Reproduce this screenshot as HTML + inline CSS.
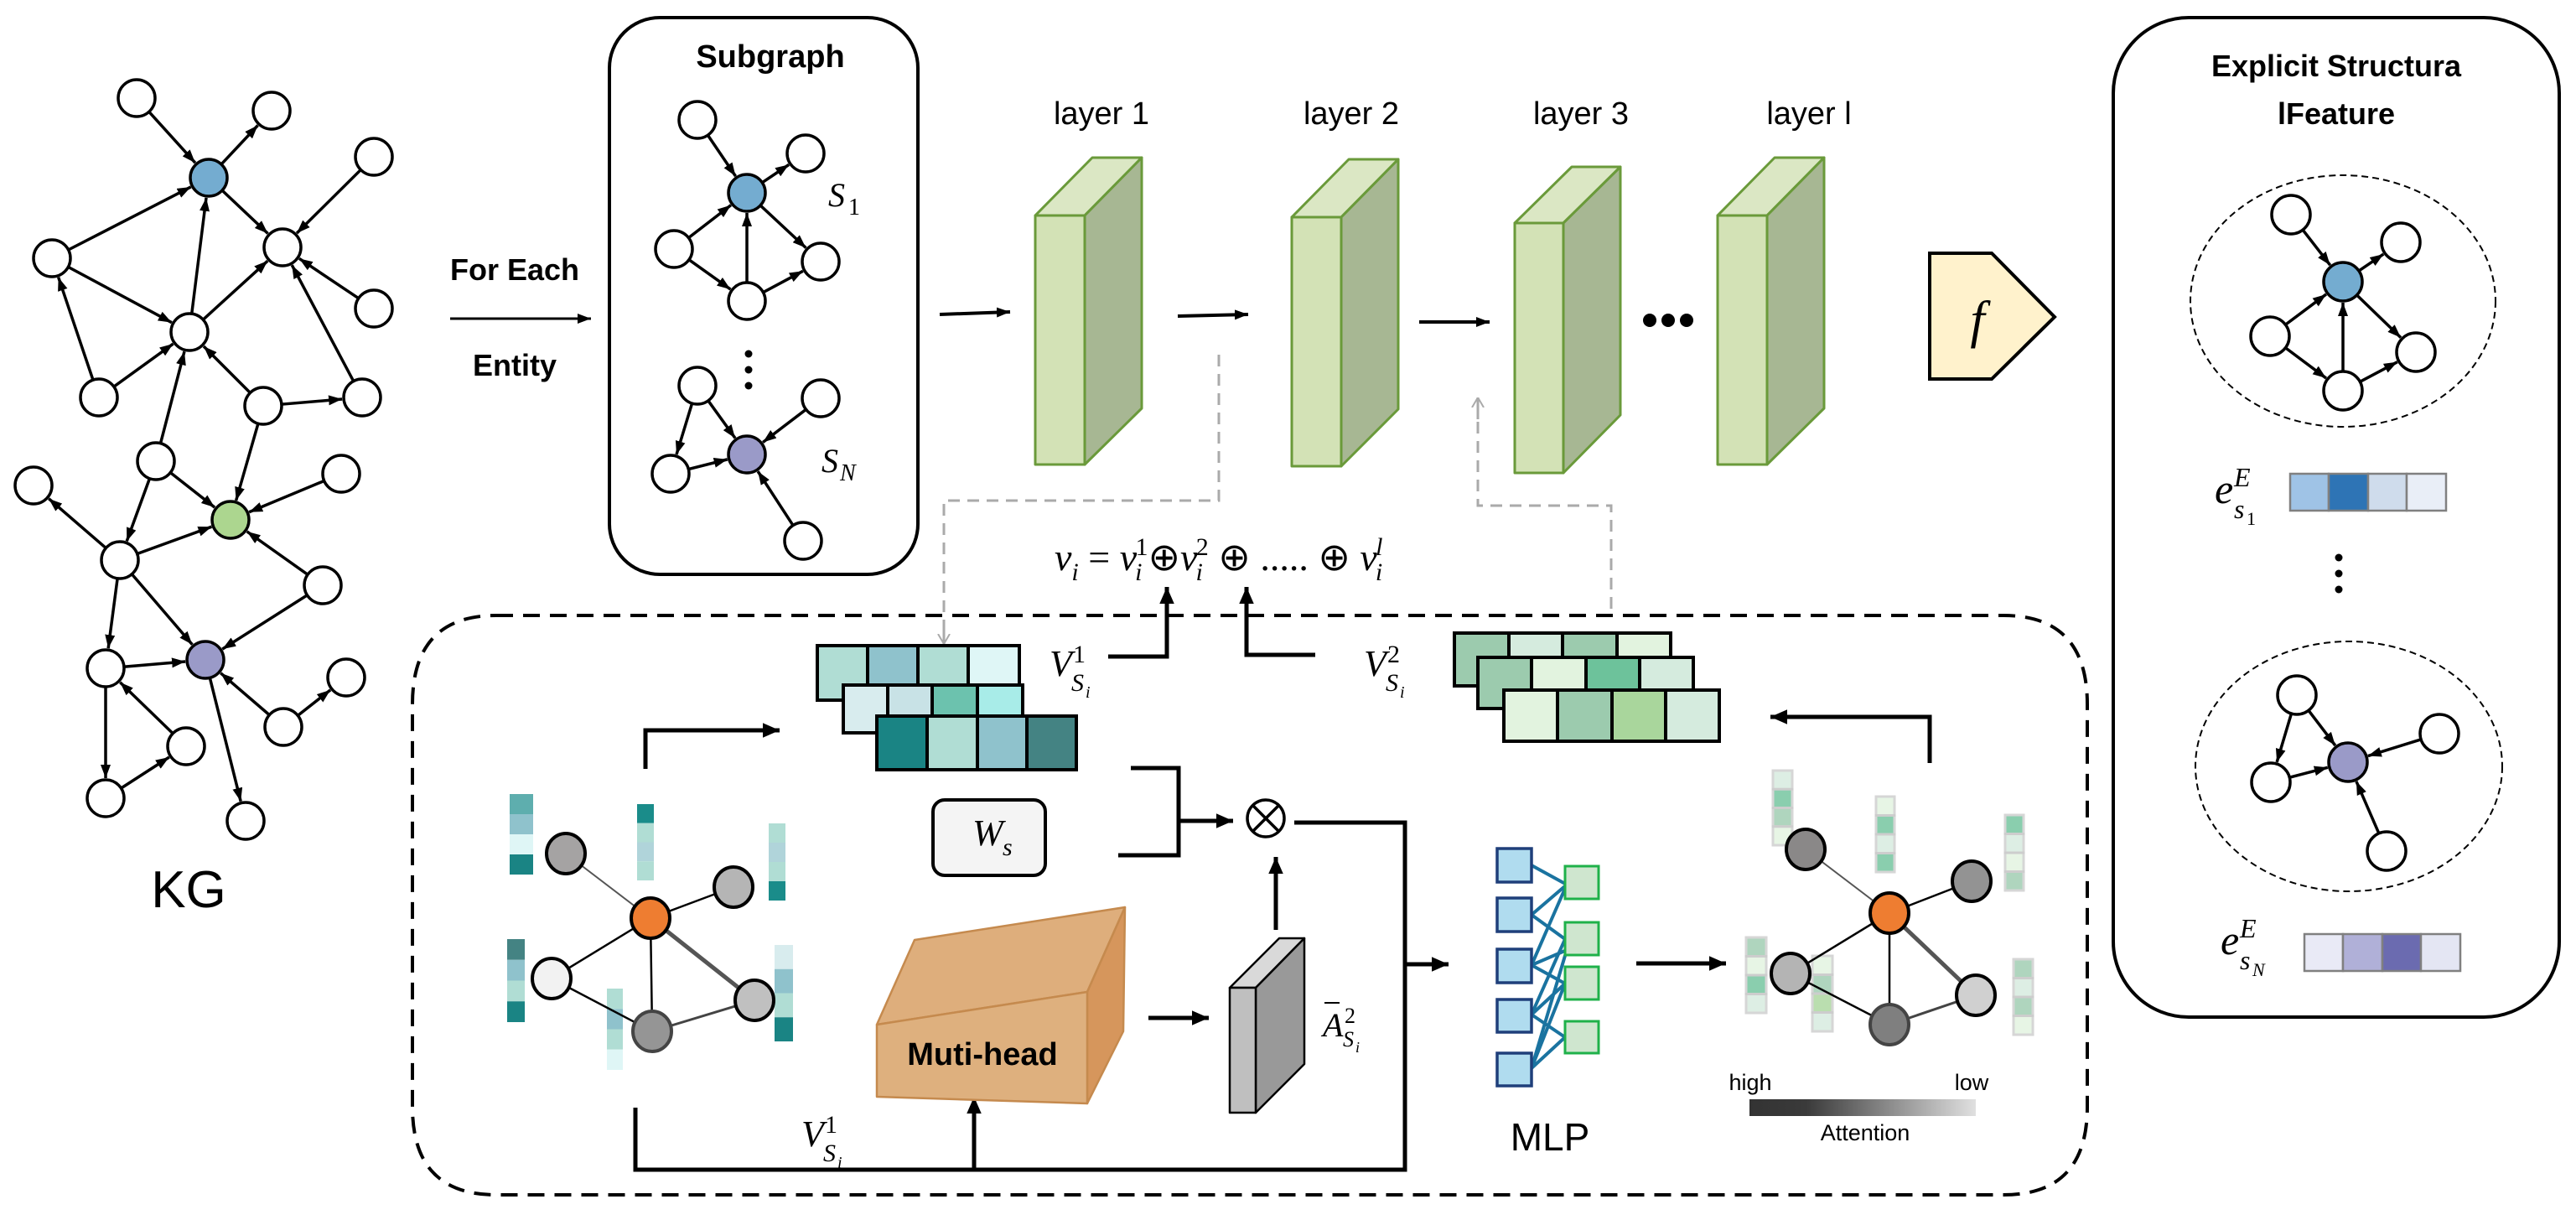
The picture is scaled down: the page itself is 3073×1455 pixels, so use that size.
<!DOCTYPE html>
<html><head><meta charset="utf-8"><style>
html,body{margin:0;padding:0;background:#fff;}
svg{display:block}
.b{font-family:"Liberation Sans",sans-serif;font-weight:bold;}
.r{font-family:"Liberation Sans",sans-serif;}
.m{font-family:"Liberation Serif",serif;font-style:italic;}
.mu{font-family:"Liberation Serif",serif;}
</style></head><body>
<svg id="s" width="3073" height="1455" viewBox="0 0 3073 1455" xmlns="http://www.w3.org/2000/svg">
<defs>
<marker id="ar" viewBox="0 0 16 12" refX="16" refY="6" markerWidth="16" markerHeight="12" markerUnits="userSpaceOnUse" orient="auto"><path d="M0,0 L16,6 L0,12 z" fill="#000"/></marker>
<marker id="arb" viewBox="0 0 16 14" refX="16" refY="7" markerWidth="20" markerHeight="18" markerUnits="userSpaceOnUse" orient="auto"><path d="M0,0 L16,7 L0,14 z" fill="#000"/></marker>
<marker id="arg" viewBox="0 0 12 14" refX="12" refY="7" markerWidth="12" markerHeight="16" markerUnits="userSpaceOnUse" orient="auto"><path d="M0,0 L12,7 L0,14" fill="none" stroke="#aaa" stroke-width="2"/></marker>
<linearGradient id="att" x1="0" x2="1"><stop offset="0" stop-color="#333"/><stop offset="0.25" stop-color="#3a3a3a"/><stop offset="1" stop-color="#e0e0e0"/></linearGradient>
</defs>
<g id="graphs"></g>

<text x="225" y="1082" class="r" font-size="62" text-anchor="middle">KG</text>

<text x="614" y="334" class="b" font-size="36" text-anchor="middle">For Each</text>
<line x1="537" y1="380" x2="705" y2="380" stroke="#000" stroke-width="3" marker-end="url(#ar)"/>
<text x="614" y="448" class="b" font-size="36" text-anchor="middle">Entity</text>

<rect x="727" y="21" width="368" height="664" rx="60" fill="none" stroke="#000" stroke-width="4"/>
<text x="919" y="80" class="b" font-size="38" text-anchor="middle">Subgraph</text>
<text x="988" y="246" class="m" font-size="40">S</text><text x="1012" y="256" class="mu" font-size="28">1</text>
<text x="980" y="563" class="m" font-size="40">S</text><text x="1002" y="573" class="m" font-size="28">N</text>
<circle cx="893" cy="422" r="4.5"/><circle cx="893" cy="441" r="4.5"/><circle cx="893" cy="460" r="4.5"/>

<g stroke="#6a9a3a" stroke-width="3" stroke-linejoin="round">
<polygon points="1235,257 1294,257 1362,188 1303,188" fill="#dbe7c4"/>
<polygon points="1294,257 1362,188 1362,487 1294,554" fill="#a7b793"/>
<rect x="1235" y="257" width="59" height="297" fill="#d3e2b6"/>
<polygon points="1541,259 1600,259 1668,190 1609,190" fill="#dbe7c4"/>
<polygon points="1600,259 1668,190 1668,488 1600,556" fill="#a7b793"/>
<rect x="1541" y="259" width="59" height="297" fill="#d3e2b6"/>
<polygon points="1807,266 1865,266 1933,199 1875,199" fill="#dbe7c4"/>
<polygon points="1865,266 1933,199 1933,495 1865,564" fill="#a7b793"/>
<rect x="1807" y="266" width="58" height="298" fill="#d3e2b6"/>
<polygon points="2049,257 2108,257 2176,188 2117,188" fill="#dbe7c4"/>
<polygon points="2108,257 2176,188 2176,487 2108,554" fill="#a7b793"/>
<rect x="2049" y="257" width="59" height="297" fill="#d3e2b6"/>
</g>
<g class="r" font-size="38" text-anchor="middle">
<text x="1314" y="148">layer 1</text>
<text x="1612" y="148">layer 2</text>
<text x="1886" y="148">layer 3</text>
<text x="2158" y="148">layer l</text>
</g>
<g stroke="#000" stroke-width="4">
<line x1="1121" y1="375" x2="1205" y2="372" marker-end="url(#ar)"/>
<line x1="1405" y1="377" x2="1489" y2="375" marker-end="url(#ar)"/>
<line x1="1693" y1="384" x2="1777" y2="384" marker-end="url(#ar)"/>
</g>
<circle cx="1968" cy="382" r="8"/><circle cx="1990" cy="382" r="8"/><circle cx="2012" cy="382" r="8"/>

<g fill="none" stroke="#aaa" stroke-width="3" stroke-dasharray="14 9">
<polyline points="1454,423 1454,597 1126,597 1126,760"/>
<polyline points="1763,480 1763,603 1922,603 1922,732"/>
</g>
<line x1="1126" y1="740" x2="1126" y2="768" stroke="#aaa" stroke-width="3" marker-end="url(#arg)"/>
<line x1="1763" y1="500" x2="1763" y2="474" stroke="#aaa" stroke-width="3" marker-end="url(#arg)"/>

<text x="1258" y="680" font-size="46"><tspan class="m">v</tspan><tspan class="m" font-size="30" dy="12">i</tspan><tspan class="mu" dy="-12"> = </tspan><tspan class="m">v</tspan><tspan class="m" font-size="30" dy="12" dx="-2">i</tspan><tspan class="mu" font-size="30" dy="-30" dx="-8">1</tspan><tspan class="mu" dy="18">⊕</tspan><tspan class="m">v</tspan><tspan class="m" font-size="30" dy="12" dx="-2">i</tspan><tspan class="mu" font-size="30" dy="-30" dx="-8">2</tspan><tspan class="mu" dy="18"> ⊕ ..... ⊕ </tspan><tspan class="m">v</tspan><tspan class="m" font-size="30" dy="12" dx="-2">i</tspan><tspan class="m" font-size="30" dy="-30" dx="-8">l</tspan></text>

<polygon points="2302,302 2376,302 2451,378 2376,452 2302,452" fill="#fff2cc" stroke="#000" stroke-width="4"/>
<text x="2359" y="402" class="m" font-size="62" text-anchor="middle">f</text>

<rect x="2521" y="21" width="532" height="1192" rx="90" fill="none" stroke="#000" stroke-width="4"/>
<text x="2787" y="91" class="b" font-size="36" text-anchor="middle">Explicit Structura</text>
<text x="2787" y="148" class="b" font-size="36" text-anchor="middle">lFeature</text>
<ellipse cx="2795" cy="359" rx="182" ry="150" fill="none" stroke="#000" stroke-width="2" stroke-dasharray="8 5"/>
<ellipse cx="2802" cy="914" rx="183" ry="149" fill="none" stroke="#000" stroke-width="2" stroke-dasharray="8 5"/>
<text x="2642" y="600" class="m" font-size="50">e</text><text x="2665" y="580" class="m" font-size="32">E</text><text x="2665" y="618" class="m" font-size="32">s</text><text x="2680" y="626" class="mu" font-size="22">1</text>
<g stroke="#808080" stroke-width="2.5">
<rect x="2732" y="565" width="46" height="44" fill="#9fc3e6"/><rect x="2778" y="565" width="47" height="44" fill="#2e74b5"/><rect x="2825" y="565" width="46" height="44" fill="#cfdcec"/><rect x="2871" y="565" width="47" height="44" fill="#e9eef7"/>
<rect x="2749" y="1114" width="46" height="44" fill="#e9eaf6"/><rect x="2795" y="1114" width="47" height="44" fill="#b0b0d8"/><rect x="2842" y="1114" width="46" height="44" fill="#6b6bb0"/><rect x="2888" y="1114" width="47" height="44" fill="#e4e6f3"/>
</g>
<circle cx="2790" cy="665" r="4.5"/><circle cx="2790" cy="684" r="4.5"/><circle cx="2790" cy="703" r="4.5"/>
<text x="2649" y="1138" class="m" font-size="50">e</text><text x="2672" y="1118" class="m" font-size="32">E</text><text x="2672" y="1156" class="m" font-size="32">s</text><text x="2687" y="1164" class="m" font-size="22">N</text>

<path d="M592,734 L2390,734 Q2490,734 2490,840 L2490,1320 Q2490,1425 2390,1425 L592,1425 Q492,1425 492,1320 L492,840 Q492,734 592,734 Z" fill="none" stroke="#000" stroke-width="4" stroke-dasharray="20 12"/>

<g stroke="#000" stroke-width="4">
<rect x="975" y="770" width="60" height="65" fill="#b0ddd4"/><rect x="1035" y="770" width="60" height="65" fill="#8fc2cc"/><rect x="1095" y="770" width="60" height="65" fill="#b0ddd4"/><rect x="1155" y="770" width="61" height="65" fill="#dff6f6"/>
<rect x="1006" y="817" width="53" height="57" fill="#d8ecee"/><rect x="1059" y="817" width="53" height="57" fill="#c8e2e6"/><rect x="1112" y="817" width="54" height="57" fill="#6cc2ae"/><rect x="1166" y="817" width="54" height="57" fill="#a8ece8"/>
<rect x="1046" y="854" width="60" height="64" fill="#1a8484"/><rect x="1106" y="854" width="60" height="64" fill="#b0ddd4"/><rect x="1166" y="854" width="59" height="64" fill="#8fc2cc"/><rect x="1225" y="854" width="59" height="64" fill="#448383"/>
<rect x="1735" y="755" width="65" height="63" fill="#9ccbae"/><rect x="1800" y="755" width="64" height="63" fill="#d5ebde"/><rect x="1864" y="755" width="65" height="63" fill="#9ccbae"/><rect x="1929" y="755" width="64" height="63" fill="#e2f3df"/>
<rect x="1763" y="784" width="64" height="61" fill="#9ccbae"/><rect x="1827" y="784" width="65" height="61" fill="#e2f3df"/><rect x="1892" y="784" width="64" height="61" fill="#6dc29b"/><rect x="1956" y="784" width="64" height="61" fill="#d5ebde"/>
<rect x="1794" y="823" width="64" height="61" fill="#e2f3df"/><rect x="1858" y="823" width="65" height="61" fill="#9ccbae"/><rect x="1923" y="823" width="64" height="61" fill="#a9d69c"/><rect x="1987" y="823" width="64" height="61" fill="#d5ebde"/>
</g>

<g>
<text x="1252" y="806" class="m" font-size="44">V</text><text x="1280" y="790" class="mu" font-size="30">1</text><text x="1278" y="824" class="m" font-size="30">S</text><text x="1295" y="832" class="m" font-size="20">i</text>
<text x="1627" y="806" class="m" font-size="44">V</text><text x="1655" y="790" class="mu" font-size="30">2</text><text x="1653" y="824" class="m" font-size="30">S</text><text x="1670" y="832" class="m" font-size="20">i</text>
<text x="956" y="1367" class="m" font-size="44">V</text><text x="984" y="1351" class="mu" font-size="30">1</text><text x="982" y="1385" class="m" font-size="30">S</text><text x="999" y="1393" class="m" font-size="20">i</text>
<line x1="1580" y1="1196" x2="1598" y2="1196" stroke="#000" stroke-width="2"/>
<text x="1578" y="1236" class="m" font-size="40">A</text><text x="1604" y="1220" class="mu" font-size="26">2</text><text x="1602" y="1248" class="m" font-size="26">S</text><text x="1617" y="1255" class="m" font-size="18">i</text>
</g>

<g fill="none" stroke="#000" stroke-width="5">
<polyline points="1322,783 1392,783 1392,700" marker-end="url(#arb)"/>
<polyline points="1569,781 1487,781 1487,700" marker-end="url(#arb)"/>
<polyline points="770,917 770,871 930,871" marker-end="url(#arb)"/>
<polyline points="2302,910 2302,855 2112,855" marker-end="url(#arb)"/>
<polyline points="1349,916 1406,916 1406,1020 1334,1020"/>
<line x1="1406" y1="979" x2="1471" y2="979" marker-end="url(#arb)"/>
<polyline points="1544,981 1676,981 1676,1395 758,1395 758,1321"/>
<line x1="1676" y1="1150" x2="1728" y2="1150" marker-end="url(#arb)"/>
<line x1="1162" y1="1395" x2="1162" y2="1308" marker-end="url(#arb)"/>
<line x1="1370" y1="1214" x2="1442" y2="1214" marker-end="url(#arb)"/>
<line x1="1522" y1="1109" x2="1522" y2="1022" marker-end="url(#arb)"/>
<line x1="1952" y1="1149" x2="2059" y2="1149" marker-end="url(#arb)"/>
</g>
<g stroke="#000" stroke-width="3.5" fill="#fff"><circle cx="1510" cy="976" r="22"/><line x1="1494" y1="960" x2="1526" y2="992"/><line x1="1526" y1="960" x2="1494" y2="992"/></g>
<rect x="1113" y="954" width="134" height="90" rx="14" fill="#f4f4f4" stroke="#000" stroke-width="4"/>
<text x="1160" y="1008" class="m" font-size="44">W</text><text x="1196" y="1020" class="m" font-size="30">s</text>

<g stroke="#c58a4e" stroke-width="2.5" stroke-linejoin="round">
<polygon points="1046,1222 1091,1121 1342,1082 1297,1183" fill="#deae7c"/>
<polygon points="1297,1183 1342,1082 1340,1230 1297,1316" fill="#d6965c"/>
<polygon points="1046,1222 1297,1183 1297,1316 1046,1308" fill="#deb07e"/>
</g>
<text x="1172" y="1270" class="b" font-size="38" text-anchor="middle">Muti-head</text>
<g stroke="#000" stroke-width="2.5" stroke-linejoin="round">
<polygon points="1467,1178 1498,1178 1556,1119 1526,1119" fill="#d9d9d9"/>
<polygon points="1498,1178 1556,1119 1556,1269 1498,1327" fill="#999"/>
<rect x="1467" y="1178" width="31" height="149" fill="#bfbfbf"/>
</g>

<g id="lv"></g>
<g stroke="#1a73a0" stroke-width="4">
<line x1="1827" y1="1032" x2="1869" y2="1055"/>
<line x1="1827" y1="1091" x2="1869" y2="1055"/>
<line x1="1827" y1="1091" x2="1867" y2="1120"/>
<line x1="1827" y1="1151" x2="1869" y2="1055"/>
<line x1="1827" y1="1151" x2="1869" y2="1133"/>
<line x1="1827" y1="1151" x2="1867" y2="1173"/>
<line x1="1827" y1="1210" x2="1867" y2="1120"/>
<line x1="1827" y1="1210" x2="1867" y2="1173"/>
<line x1="1827" y1="1210" x2="1867" y2="1237"/>
<line x1="1827" y1="1274" x2="1867" y2="1173"/>
<line x1="1827" y1="1274" x2="1867" y2="1237"/>
<line x1="1827" y1="1274" x2="1869" y2="1133"/>
</g>
<g fill="#b0dcef" stroke="#1f3f7a" stroke-width="3.5">
<rect x="1786" y="1012" width="41" height="40"/><rect x="1786" y="1071" width="41" height="40"/><rect x="1786" y="1132" width="41" height="40"/><rect x="1786" y="1192" width="41" height="39"/><rect x="1786" y="1256" width="41" height="39"/>
</g>
<g fill="#cfe6cf" stroke="#1fb14a" stroke-width="3">
<rect x="1867" y="1033" width="40" height="39"/><rect x="1867" y="1100" width="40" height="39"/><rect x="1867" y="1153" width="40" height="39"/><rect x="1867" y="1218" width="40" height="38"/>
</g>
<text x="1849" y="1372" class="r" font-size="46" text-anchor="middle">MLP</text>

<rect x="2087" y="1311" width="270" height="20" fill="url(#att)"/>
<text x="2088" y="1300" class="r" font-size="27" text-anchor="middle">high</text>
<text x="2352" y="1300" class="r" font-size="27" text-anchor="middle">low</text>
<text x="2225" y="1360" class="r" font-size="27" text-anchor="middle">Attention</text>
</svg>
<script>
var NS="http://www.w3.org/2000/svg",G=document.getElementById("graphs");
function el(t,a,p){var e=document.createElementNS(NS,t);for(var k in a)e.setAttribute(k,a[k]);(p||G).appendChild(e);return e;}
function graph(N,E,r,sw){
 E.forEach(function(e){var a=N[e[0]],b=N[e[1]];var dx=b[0]-a[0],dy=b[1]-a[1],d=Math.sqrt(dx*dx+dy*dy);
  var ra=(a[3]||r)+1,rb=(b[3]||r)+2;
  el("line",{x1:a[0]+dx/d*ra,y1:a[1]+dy/d*ra,x2:b[0]-dx/d*rb,y2:b[1]-dy/d*rb,stroke:"#000","stroke-width":sw,"marker-end":"url(#ar)"});});
 for(var k in N){var n=N[k];el("circle",{cx:n[0],cy:n[1],r:(n[3]||r),fill:n[2]||"#fff",stroke:"#000","stroke-width":sw});}
}
var BL="#74acd0",GR="#acd68f",PU="#9a9ac8";
graph({A:[163,117],B:[324,132],C:[249,212,BL],D:[446,187],E:[62,308],F:[337,295],G:[446,368],H:[226,396],I:[118,474],J:[314,484],K:[432,474],L:[186,550],M:[275,620,GR],N:[407,565],O:[40,579],P:[143,668],Q:[385,698],R:[245,787,PU],S:[126,797],T:[413,808],U:[338,867],V:[222,890],W:[126,952],X:[293,979]},
[["A","C"],["C","B"],["C","F"],["D","F"],["E","C"],["E","H"],["I","E"],["H","C"],["I","H"],["H","F"],["G","F"],["K","F"],["J","H"],["J","K"],["L","H"],["J","M"],["L","M"],["N","M"],["P","O"],["L","P"],["P","M"],["P","R"],["P","S"],["Q","M"],["Q","R"],["S","R"],["V","S"],["S","W"],["W","V"],["R","X"],["U","R"],["U","T"]],22,3.5);
graph({a:[832,143],b:[961,183],c:[891,230,BL],d:[804,297],e:[979,312],f:[891,359]},[["a","c"],["c","b"],["d","c"],["c","e"],["d","f"],["f","c"],["f","e"]],22,3.5);
graph({a:[832,460],b:[979,475],c:[891,542,PU],d:[800,565],e:[958,645]},[["a","c"],["a","d"],["d","c"],["b","c"],["e","c"]],22,3.5);
graph({a:[2733,256],b:[2864,289],c:[2795,336,BL],d:[2708,401],e:[2882,420],f:[2795,466]},[["a","c"],["c","b"],["d","c"],["c","e"],["d","f"],["f","c"],["f","e"]],23,3.5);
graph({a:[2740,829],b:[2910,875],c:[2801,909,PU],d:[2709,933],e:[2847,1015]},[["a","c"],["a","d"],["d","c"],["b","c"],["e","c"]],23,3.5);
var LV=document.getElementById("lv");
function strip(x,y,w,h,cols,op,stroke){var ch=h/cols.length;cols.forEach(function(c,i){el("rect",{x:x,y:y+i*ch,width:w,height:ch,fill:c,opacity:op||1,stroke:stroke||"none","stroke-width":3},LV);});}
strip(608,947,28,96,["#5eaeae","#8fc2cc","#dff6f6","#1a8484"]);
strip(760,959,20,91,["#1a8c8a","#b0ddd4","#b0d4da","#b0ddd4"]);
strip(917,982,20,92,["#b0ddd4","#b0d4da","#b0ddd4","#1a8c8a"]);
strip(605,1120,21,99,["#448383","#8fc2cc","#b0ddd4","#1a8484"]);
strip(724,1179,19,97,["#b0ddd4","#8fc2cc","#b0ddd4","#dff6f6"]);
strip(924,1127,22,115,["#d8ecee","#8fc2cc","#b0ddd4","#1a8484"]);
function ag(N,E,sw){E.forEach(function(e){var a=N[e[0]],b=N[e[1]];el("line",{x1:a[0],y1:a[1],x2:b[0],y2:b[1],stroke:e[2]||"#000","stroke-width":e[3]||2.5},LV);});
 for(var k in N){var n=N[k];el("ellipse",{cx:n[0],cy:n[1],rx:23,ry:24,fill:n[2],stroke:n[3]||"#000","stroke-width":sw},LV);}}
ag({a:[675,1018,"#a5a3a3"],o:[776,1095,"#ee7d31"],b:[875,1058,"#b5b5b5"],w:[658,1167,"#f2f2f2"],m:[778,1230,"#959595","#444"],r:[900,1193,"#c0c0c0"]},
 [["a","o","#555",2],["o","b"],["o","w"],["o","m"],["o","r","#555",5],["w","m"],["m","r","#444",3]],4);
strip(2115,919,23,89,["#d5ebde","#6dc29b","#9ccbae","#e2f3df"],0.8,"#ccc");
strip(2238,950,22,90,["#e2f3df","#6dc29b","#d5ebde","#6dc29b"],0.8,"#ccc");
strip(2392,972,22,90,["#6dc29b","#d5ebde","#e2f3df","#9ccbae"],0.8,"#ccc");
strip(2083,1118,24,90,["#9ccbae","#e2f3df","#6dc29b","#d5ebde"],0.8,"#ccc");
strip(2162,1140,24,90,["#e2f3df","#9ccbae","#a9d69c","#d5ebde"],0.8,"#ccc");
strip(2402,1144,23,90,["#9ccbae","#d5ebde","#9ccbae","#e2f3df"],0.8,"#ccc");
ag({a:[2154,1013,"#8a8888"],o:[2254,1089,"#ee7d31"],b:[2352,1051,"#939393"],w:[2136,1161,"#b4b4b4"],m:[2254,1222,"#7f7f7f","#444"],r:[2357,1187,"#d0d0d0"]},
 [["a","o","#555",2],["o","b"],["o","w"],["o","m"],["o","r","#555",5],["w","m"],["m","r","#444",3]],4);
</script>
</body></html>
